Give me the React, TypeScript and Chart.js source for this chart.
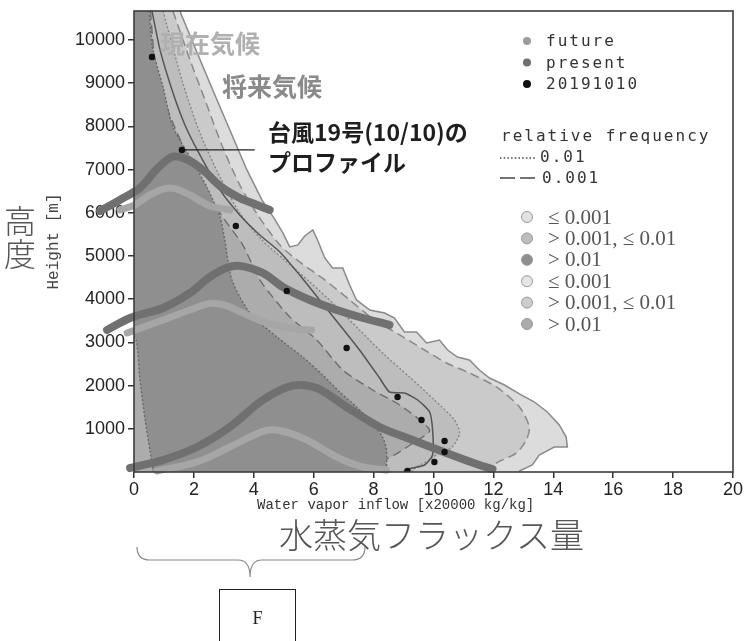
import React, { useEffect, useRef } from 'react';
import { Chart, registerables } from 'chart.js';

Chart.register(...registerables);

type P = [number, number];

// ---- axes ----
const xTickValues = [0, 2, 4, 6, 8, 10, 12, 14, 16, 18, 20];
const yTickValues = [1000, 2000, 3000, 4000, 5000, 6000, 7000, 8000, 9000, 10000];
const X_MIN = 0;
const X_MAX = 20;
const Y_MIN = 0;
const Y_MAX = 10670;

// ---- frequency regions (right-hand edge, top -> bottom) ----
const futureOuterEdge: P[] = [
  [1.53, 10670], [2.07, 9769], [2.63, 8843], [3.2, 7917], [3.77, 6991], [4.27, 6297], [4.67, 5880],
  [4.97, 5533], [5.2, 5209], [5.47, 5255], [5.7, 5463], [5.97, 5602], [6.13, 5371], [6.37, 4954],
  [6.63, 4723], [6.97, 4723], [7.2, 4329], [7.43, 3982], [7.87, 3750], [8.37, 3681], [8.7, 3565],
  [9.03, 3241], [9.43, 3241], [9.77, 2986], [10.2, 3056], [10.47, 2824], [10.8, 2662], [11.2, 2593],
  [11.53, 2361], [11.87, 2176], [12.37, 2014], [12.87, 1806], [13.37, 1620], [13.8, 1389],
  [14.2, 1088], [14.43, 810], [14.47, 579], [14.03, 579], [13.53, 394], [13.3, 162], [12.87, 23],
];
const futureDashedEdge: P[] = [
  [1.3, 10670], [1.87, 9538], [2.37, 8612], [2.93, 7570], [3.53, 6644], [4.13, 5950], [4.87, 5255],
  [5.53, 4862], [6.37, 4445], [7.2, 3982], [8.03, 3519], [8.87, 3172], [9.7, 2824], [10.43, 2523],
  [11.2, 2292], [12.1, 1968], [12.87, 1505], [13.2, 1042], [13.1, 741], [12.77, 440], [12.1, 208],
  [11.87, 23],
];
const futureDottedEdge: P[] = [
  [0.97, 10670], [1.63, 9005], [2.2, 7848], [2.87, 6829], [3.53, 5996], [4.27, 5371], [5.03, 4908],
  [5.87, 4399], [6.7, 3866], [7.53, 3287], [8.37, 2709], [9.2, 2199], [10.03, 1667], [10.7, 1204],
  [10.87, 903], [10.63, 579], [10.2, 440], [9.87, 278], [9.3, 23],
];
const presentOuterEdge: P[] = [
  [0.6, 10670], [0.87, 9769], [1.27, 8843], [1.7, 8033], [2.2, 7339], [2.87, 6528], [3.53, 5950],
  [4.2, 5487], [4.87, 5093], [5.53, 4560], [6.2, 3982], [6.87, 3403], [7.53, 2824], [8.2, 2176],
  [8.53, 1852], [9.03, 1829], [9.47, 1667], [9.87, 1389], [9.97, 972], [9.97, 394], [9.7, 162],
  [9.03, 23],
];
const presentDashedEdge: P[] = [
  [0.55, 10670], [0.7, 9538], [1.13, 8380], [1.7, 7454], [2.37, 6528], [3.03, 5834], [3.63, 5255],
  [4.2, 4445], [4.63, 4051], [5.2, 3588], [6.1, 3056], [6.97, 2361], [7.97, 1898], [8.87, 1551],
  [9.87, 972], [9.37, 695], [8.7, 394], [8.03, 162], [7.7, 23],
];
const presentDottedEdge: P[] = [
  [0.5, 10670], [0.63, 9769], [0.97, 8913], [1.3, 7987], [1.87, 7292], [2.43, 6598], [2.87, 5903],
  [3.03, 5371], [3.27, 4445], [3.87, 3681], [4.77, 3125], [5.63, 2662], [6.3, 2246], [6.87, 1852],
  [7.43, 1505], [7.93, 1158], [8.3, 810], [8.43, 509], [8.43, 23],
];
// left-hand edge of the >0.01 present region (bottom -> top)
const presentDottedLeft: P[] = [
  [0.63, 23], [0.53, 509], [0.37, 1204], [0.2, 2130], [0.07, 3056], [-0.2, 3300],
];

// ---- schematic profile curves (left -> right) ----
const upperFuture: P[] = [
  [-1.13, 6042], [-0.47, 6297], [0.2, 6575], [0.8, 7038], [1.3, 7300], [1.87, 7200], [2.37, 6945],
  [2.87, 6621], [3.53, 6343], [4.03, 6204], [4.53, 6065],
];
const upperPresent: P[] = [
  [-0.47, 6065], [0.03, 6181], [0.53, 6413], [1.03, 6560], [1.37, 6560], [1.87, 6413], [2.53, 6158],
  [3.2, 6065],
];
const middleFuture: P[] = [
  [-0.9, 3287], [-0.13, 3565], [0.97, 3797], [1.87, 4144], [2.53, 4514], [3.1, 4730], [3.53, 4770],
  [4.3, 4607], [4.97, 4283], [5.87, 3982], [6.77, 3750], [7.53, 3588], [8.53, 3403],
];
const middlePresent: P[] = [
  [-0.23, 3218], [0.97, 3519], [1.87, 3750], [2.53, 3900], [3.1, 3843], [3.77, 3635], [4.53, 3426],
  [5.43, 3310], [5.93, 3287],
];
const lowerFuture: P[] = [
  [-0.13, 93], [0.97, 278], [2.1, 579], [3.2, 1042], [4.3, 1667], [5.3, 2000], [6.1, 1945],
  [7.1, 1505], [8.2, 1042], [9.3, 741], [10.43, 440], [11.53, 162], [11.97, 69],
];
const lowerPresent: P[] = [
  [0.77, 23], [2.1, 231], [3.2, 579], [4.3, 940], [4.87, 960], [5.77, 741], [6.77, 347], [7.63, 116],
  [8.43, 46],
];

// ---- typhoon No.19 (2019-10-10) profile ----
const profile20191010: P[] = [
  [0.6, 9607], [1.6, 7454], [3.4, 5695], [5.1, 4190], [7.1, 2871], [8.8, 1736], [9.6, 1204],
  [10.37, 718], [10.37, 463], [10.03, 231], [9.13, 23],
];
const leaderLine: P[] = [[1.6, 7454], [4.03, 7454]];

// ---- legend ----
const pointLegendLabels = ['future', 'present', '20191010'];
const pointLegendColors = ['#9c9c9c', '#707070', '#111111'];
const lineLegendTitle = 'relative frequency';
const lineLegendLabels = ['0.01', '0.001'];
const circleLegendLabels = ['≤ 0.001', '> 0.001, ≤ 0.01', '> 0.01', '≤ 0.001', '> 0.001, ≤ 0.01', '> 0.01'];
const circleLegendFills = ['#e2e2e2', '#bdbdbd', '#8e8e8e', '#e6e6e6', '#cdcdcd', '#ababab'];

const toPts = (a: P[]) => a.map(([x, y]) => ({ x, y }));

function closeShape(edge: P[], inner: P[] = [[-0.3, 0]]) {
  const lo = -600;
  const hi = 11200;
  const first = edge[0];
  const last = edge[edge.length - 1];
  return [
    ...toPts(edge),
    { x: last[0], y: lo },
    { x: inner[0][0], y: lo },
    ...toPts(inner),
    { x: inner[inner.length - 1][0], y: hi },
    { x: first[0], y: hi },
    { x: first[0], y: first[1] },
  ];
}

function shape(label: string, edge: P[], fillColor: string | null, stroke: string, dash: number[], width: number, tension: number, inner?: P[]) {
  return {
    label,
    data: closeShape(edge, inner),
    fill: fillColor ? 'shape' : false,
    backgroundColor: fillColor || 'transparent',
    borderColor: stroke,
    borderWidth: width,
    borderDash: dash,
    pointRadius: 0,
    tension,
    capBezierPoints: false,
  };
}

function curve(label: string, pts: P[], color: string, width: number) {
  return {
    label,
    data: toPts(pts).reverse(),
    fill: false,
    borderColor: color,
    borderWidth: width,
    pointRadius: 0,
    tension: 0.3,
    capBezierPoints: false,
    borderCapStyle: 'round',
    borderJoinStyle: 'round',
    clip: false,
  };
}

const overlayPlugin = {
  id: 'overlay',
  afterDraw(chart: any) {
    const ctx: CanvasRenderingContext2D = chart.ctx;
    const { left, top, right, bottom } = chart.chartArea;
    ctx.save();
    // frame
    ctx.strokeStyle = '#3c3c3c';
    ctx.lineWidth = 1.6;
    ctx.strokeRect(left, top, right - left, bottom - top);

    // in-plot labels
    ctx.textBaseline = 'middle';
    ctx.textAlign = 'left';
    ctx.font = 'bold 25px "Noto Sans CJK JP"';
    ctx.fillStyle = '#b0b0b0';
    ctx.fillText('現在気候', 160, 43);
    ctx.fillStyle = '#8a8a8a';
    ctx.fillText('将来気候', 222, 86);
    ctx.font = 'bold 23px "Noto Sans CJK JP"';
    ctx.fillStyle = '#1e1e1e';
    ctx.fillText('台風19号(10/10)の', 268, 132);
    ctx.fillText('プロファイル', 268, 162);

    // legend: points
    (ctx as any).letterSpacing = '2px';
    ctx.font = '16px "DejaVu Sans Mono"';
    pointLegendLabels.forEach((lab, i) => {
      const y = 41 + i * 21.5;
      ctx.beginPath();
      ctx.arc(527, y, 4, 0, Math.PI * 2);
      ctx.fillStyle = pointLegendColors[i];
      ctx.fill();
      ctx.fillStyle = '#333';
      ctx.fillText(lab, 546, y + 1);
    });
    // legend: lines
    ctx.fillStyle = '#333';
    ctx.fillText(lineLegendTitle, 501, 137);
    ctx.strokeStyle = '#444';
    ctx.lineWidth = 1.3;
    ctx.setLineDash([1.5, 2.2]);
    ctx.beginPath();
    ctx.moveTo(500, 158);
    ctx.lineTo(537, 158);
    ctx.stroke();
    ctx.setLineDash([15, 5]);
    ctx.lineWidth = 1.6;
    ctx.beginPath();
    ctx.moveTo(500, 178);
    ctx.lineTo(535, 178);
    ctx.stroke();
    ctx.setLineDash([]);
    ctx.fillText(lineLegendLabels[0], 540, 158);
    ctx.fillText(lineLegendLabels[1], 542, 179);
    (ctx as any).letterSpacing = '0px';

    // legend: circles
    ctx.font = '21px "Liberation Serif"';
    circleLegendLabels.forEach((lab, i) => {
      const y = 217 + i * 21.4;
      ctx.beginPath();
      ctx.arc(527, y, 5.5, 0, Math.PI * 2);
      ctx.fillStyle = circleLegendFills[i];
      ctx.fill();
      ctx.strokeStyle = '#999';
      ctx.lineWidth = 1;
      ctx.stroke();
      ctx.fillStyle = '#555';
      ctx.fillText(lab, 548, y + 1);
    });

    // x axis title
    ctx.font = '14px "Liberation Mono"';
    ctx.fillStyle = '#333';
    ctx.fillText('Water vapor inflow [x20000 kg/kg]', 257, 505);
    ctx.restore();
  },
};

export default function App() {
  const ref = useRef<HTMLCanvasElement>(null);

  useEffect(() => {
    const datasets: any[] = [
      shape('future ≤ 0.001', futureOuterEdge, '#dcdcdc', '#8a8a8a', [], 1.5, 0),
      shape('future 0.001', futureDashedEdge, '#cacaca', '#8a8a8a', [9, 5], 1.5, 0.25),
      shape('future 0.01', futureDottedEdge, '#bdbdbd', '#858585', [2, 2], 1.4, 0.25),
      shape('present 0.001', presentDashedEdge, '#acacac', '#6e6e6e', [9, 5], 1.4, 0.25),
      shape('present 0.01', presentDottedEdge, '#8f8f8f', '#666666', [2, 2], 1.4, 0.25, presentDottedLeft),
      shape('present outer', presentOuterEdge, null, '#555555', [], 1.5, 0.2),
      curve('present upper', upperPresent, '#a6a6a6', 7),
      curve('future upper', upperFuture, '#707070', 8),
      curve('present middle', middlePresent, '#a6a6a6', 7),
      curve('future middle', middleFuture, '#707070', 8),
      curve('present lower', lowerPresent, '#a6a6a6', 7),
      curve('future lower', lowerFuture, '#707070', 8),
      {
        label: 'leader',
        data: toPts(leaderLine),
        borderColor: '#222',
        borderWidth: 1.2,
        pointRadius: 0,
        fill: false,
      },
      {
        label: '20191010',
        data: toPts(profile20191010),
        showLine: false,
        pointRadius: 3.2,
        pointBackgroundColor: '#111',
        pointBorderWidth: 0,
        fill: false,
      },
    ];
    const n = datasets.length;
    datasets.forEach((d, i) => { d.order = n - i; });

    const chart = new Chart(ref.current as HTMLCanvasElement, {
      type: 'line',
      data: { datasets },
      options: {
        responsive: false,
        animation: false,
        devicePixelRatio: 1,
        events: [],
        layout: { padding: { left: 40, top: 11, right: 13, bottom: 139 } },
        plugins: { legend: { display: false }, tooltip: { enabled: false } },
        scales: {
          x: {
            type: 'linear',
            min: X_MIN,
            max: X_MAX,
            afterBuildTicks: (s: any) => { s.ticks = xTickValues.map((v) => ({ value: v })); },
            afterFit: (s: any) => { s.height = 30; s.paddingLeft = 0; s.paddingRight = 0; },
            grid: { display: true, drawOnChartArea: false, drawTicks: true, tickLength: 6, color: '#333', lineWidth: 1.5 },
            border: { display: false },
            ticks: { font: { family: '"Liberation Sans"', size: 18 }, color: '#222', padding: 1, maxRotation: 0, autoSkip: false, callback: (v: any) => String(v) },
          },
          y: {
            type: 'linear',
            min: Y_MIN,
            max: Y_MAX,
            afterBuildTicks: (s: any) => { s.ticks = yTickValues.map((v) => ({ value: v })); },
            afterFit: (s: any) => { s.width = 94; s.paddingTop = 0; s.paddingBottom = 0; },
            grid: { display: true, drawOnChartArea: false, drawTicks: true, tickLength: 6, color: '#333', lineWidth: 1.5 },
            border: { display: false },
            title: { display: true, text: 'Height [m]', font: { family: '"Liberation Mono"', size: 16 }, color: '#444', padding: { top: 4, bottom: 0 } },
            ticks: { font: { family: '"Liberation Sans"', size: 18 }, color: '#222', padding: 3, autoSkip: false, callback: (v: any) => String(v) },
          },
        },
      } as any,
      plugins: [overlayPlugin],
    });
    return () => chart.destroy();
  }, []);

  return (
    <div style={{ position: 'fixed', left: 0, top: 0, width: 746, height: 641, background: '#fff', overflow: 'hidden' }}>
      <canvas ref={ref} width={746} height={641} style={{ position: 'absolute', left: 0, top: 0, width: 746, height: 641 }} />
      <div style={{ position: 'absolute', left: 4, top: 203, fontFamily: '"Noto Sans CJK JP"', fontWeight: 300, fontSize: 32, lineHeight: '33px', color: '#555' }}>
        高<br />度
      </div>
      <div style={{ position: 'absolute', left: 279, top: 515, fontFamily: '"Noto Sans CJK JP"', fontWeight: 300, fontSize: 34, lineHeight: '38px', color: '#555', whiteSpace: 'nowrap' }}>
        水蒸気フラックス量
      </div>
      <svg width={746} height={641} style={{ position: 'absolute', left: 0, top: 0, pointerEvents: 'none' }}>
        <path d="M137,547 Q137,560 150,560 L238,560 Q250,560 250,577 Q250,560 262,560 L352,560 Q365,560 365,547" fill="none" stroke="#888" strokeWidth={1.2} />
      </svg>
      <div style={{ position: 'absolute', left: 219, top: 589, width: 77, height: 70, boxSizing: 'border-box', border: '1.5px solid #222', fontFamily: '"Liberation Serif"', fontSize: 18, lineHeight: '20px', textAlign: 'center', paddingTop: 18, color: '#222' }}>
        F
      </div>
    </div>
  );
}
